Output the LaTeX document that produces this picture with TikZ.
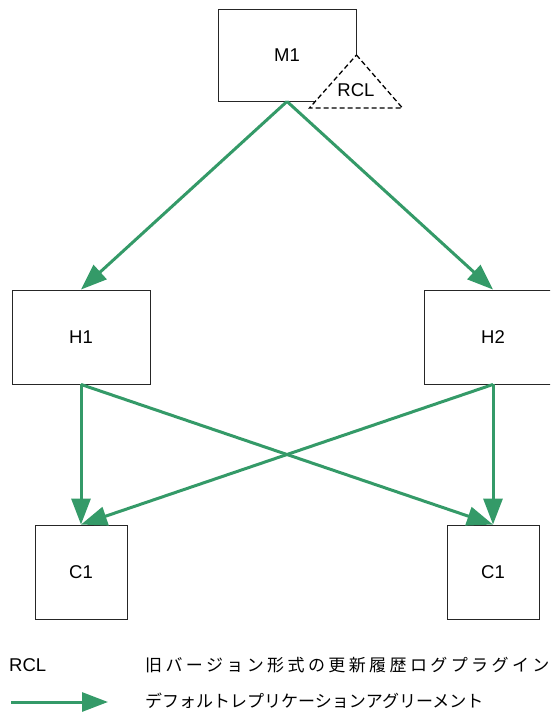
\documentclass[tikz,border=0pt]{standalone}
\usepackage{fontspec}
\setmainfont{Liberation Sans}
\newfontfamily\jp{Noto Sans CJK JP}
\newfontfamily\jpwide[LetterSpace=20]{Noto Sans CJK JP}
\usetikzlibrary{arrows.meta}
\definecolor{repgreen}{RGB}{52,154,104}
\tikzset{
  box/.style={draw=black!85, line width=0.9pt, fill=white, inner sep=0pt, font=\fontsize{18.5}{21}\selectfont},
  rep/.style={draw=repgreen, line width=3pt, -{Triangle[length=26pt,width=19pt]}, color=repgreen},
  lbl/.style={inner sep=0pt, font=\fontsize{18.5}{21}\selectfont},
  jplbl/.style={inner sep=0pt, font=\fontsize{17}{20}\selectfont},
  rclshape/.style={draw=black, line width=1.3pt, dash pattern=on 5pt off 3pt, fill=white}
}
\begin{document}
\begin{tikzpicture}[x=1pt,y=-1pt]
\path[use as bounding box, clip] (0,0) rectangle (550,713);
% boxes
\node[box, minimum width=138pt, minimum height=92pt] (M1) at (287,55) {M1};
\node[box, minimum width=138pt, minimum height=94pt] (H1) at (81,337) {H1};
\node[box, minimum width=138pt, minimum height=94pt] (H2) at (493,337) {H2};
\node[box, minimum width=92pt, minimum height=94pt] (C1a) at (81,572) {C1};
\node[box, minimum width=92pt, minimum height=94pt] (C1b) at (493,572) {C1};
% RCL triangle
\draw[rclshape] (M1.east) -- ++(46,53) -- ++(-93,0) -- cycle;
\node[lbl] (rcl) at (356,90) {RCL};
% connectors
\draw[rep] (M1.south) -- (H1.north);
\draw[rep] (M1.south) -- (H2.north);
\draw[rep] (H1.south) -- (C1a.north);
\draw[rep] (H1.south) -- (C1b.north);
\draw[rep] (H2.south) -- (C1b.north);
\draw[rep] (H2.south) -- (C1a.north);
% legend
\node[lbl, anchor=west] (legrcl) at (9,665) {RCL};
\node[jplbl, anchor=west] (legrcltext) at (145,665) {\jpwide 旧バージョン形式の更新履歴ログプラグイン};
\coordinate (legs) at (11,702);
\coordinate (lege) at (108,702);
\draw[rep] (legs) -- (lege);
\node[jplbl, anchor=west] (legreptext) at (145,701) {\jp デフォルトレプリケーションアグリーメント};
\end{tikzpicture}
\end{document}
